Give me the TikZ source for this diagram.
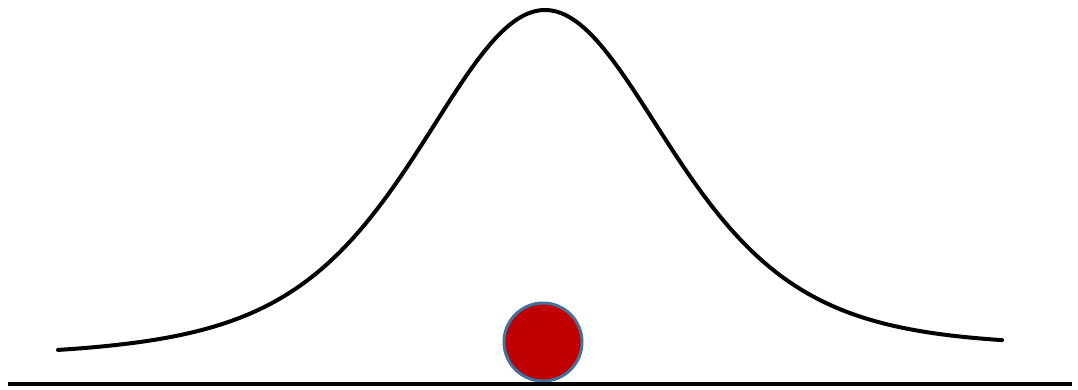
\documentclass[tikz,border=0pt]{standalone}
\definecolor{ballred}{HTML}{C00000}
\definecolor{ballrim}{HTML}{41719C}
\tikzset{
  curveline/.style={line width=4pt, line cap=round, line join=round, black},
  groundline/.style={line width=4.5pt, black},
  ball/.style={circle, fill=ballred, draw=ballrim, line width=3pt, inner sep=0pt, minimum size=78pt}
}
\begin{document}
\begin{tikzpicture}[x=1pt,y=-1pt]
\useasboundingbox (0,0) rectangle (1078,389);
\draw[curveline] plot[domain=58:1002, samples=240, smooth]
  (\x, {352-0.0085*(\x-545) - (342-0.0085*(\x-545))/(1+((\x-545)/290)^2)^3});
\node[ball] (b) at (543,342) {};
\draw[groundline] (8,384) -- (1072,384);
\end{tikzpicture}
\end{document}
